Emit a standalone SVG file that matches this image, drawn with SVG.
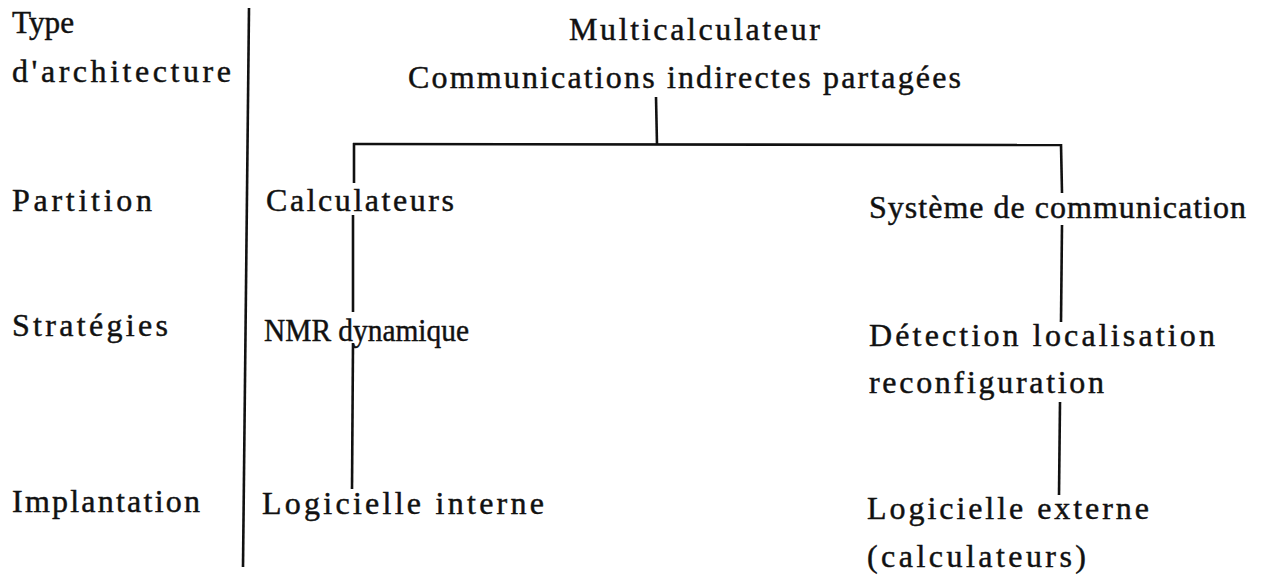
<svg xmlns="http://www.w3.org/2000/svg" width="1267" height="577" viewBox="0 0 1267 577">
<style>
text{font-family:"Liberation Serif","Times New Roman",serif;font-size:32px;fill:#111;stroke:#111;stroke-width:0.45;}
.ln{stroke:#111;stroke-width:2.6;fill:none;stroke-linecap:butt;}
</style>
<rect width="1267" height="577" fill="#fff"/>
<g id="row-labels">
<text x="12" y="33" textLength="62" lengthAdjust="spacingAndGlyphs">Type</text>
<text x="12" y="82" textLength="219" lengthAdjust="spacing">d'architecture</text>
<text x="12" y="211" textLength="140" lengthAdjust="spacing">Partition</text>
<text x="12" y="336" textLength="156" lengthAdjust="spacing">Stratégies</text>
<text x="12" y="512" textLength="188" lengthAdjust="spacing">Implantation</text>
</g>
<g id="node-root">
<text x="569" y="40" textLength="251" lengthAdjust="spacing">Multicalculateur</text>
<text x="408" y="88" textLength="553" lengthAdjust="spacing">Communications indirectes partagées</text>
</g>
<g id="node-calculateurs"><text x="266" y="211" textLength="188" lengthAdjust="spacing">Calculateurs</text></g>
<g id="node-systeme"><text x="869" y="218" textLength="377" lengthAdjust="spacing">Système de communication</text></g>
<g id="node-nmr"><text x="264" y="341" textLength="205" lengthAdjust="spacingAndGlyphs">NMR dynamique</text></g>
<g id="node-detection">
<text x="869" y="346" textLength="346" lengthAdjust="spacing">Détection localisation</text>
<text x="869" y="393" textLength="235" lengthAdjust="spacing">reconfiguration</text>
</g>
<g id="node-log-interne"><text x="262" y="514" textLength="282" lengthAdjust="spacing">Logicielle interne</text></g>
<g id="node-log-externe">
<text x="867" y="519" textLength="282" lengthAdjust="spacing">Logicielle externe</text>
<text x="867" y="567" textLength="219" lengthAdjust="spacing">(calculateurs)</text>
</g>
<g id="connectors">
<line class="ln" x1="249" y1="8" x2="243" y2="567"/>
<line class="ln" x1="656" y1="97" x2="657" y2="145"/>
<line class="ln" x1="353" y1="144" x2="1062" y2="145"/>
<line class="ln" x1="354" y1="143" x2="354" y2="183"/>
<line class="ln" x1="353" y1="215" x2="353" y2="312"/>
<line class="ln" x1="353" y1="343" x2="352" y2="489"/>
<line class="ln" x1="1061" y1="144" x2="1062" y2="193"/>
<line class="ln" x1="1062" y1="225" x2="1061" y2="322"/>
<line class="ln" x1="1060" y1="402" x2="1059" y2="495"/>
</g>
</svg>
